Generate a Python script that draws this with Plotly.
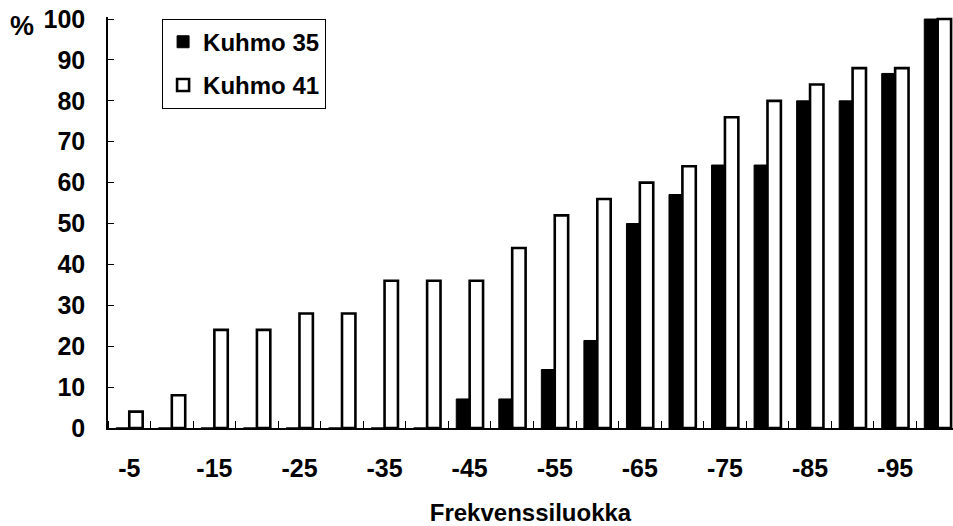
import plotly.graph_objects as go

# Frequency classes (category labels) and cumulative shares (%)
classes = ["-5", "-10", "-15", "-20", "-25", "-30", "-35", "-40", "-45", "-50",
           "-55", "-60", "-65", "-70", "-75", "-80", "-85", "-90", "-95", "-100"]
kuhmo35 = [0, 0, 0, 0, 0, 0, 0, 0, 7.1, 7.1,
           14.3, 21.4, 50, 57.1, 64.3, 64.3, 80, 80, 86.7, 100]
kuhmo41 = [4, 8, 24, 24, 28, 28, 36, 36, 36, 44,
           52, 56, 60, 64, 76, 80, 84, 88, 88, 100]
y_ticks = [0, 10, 20, 30, 40, 50, 60, 70, 80, 90, 100]

idx = list(range(len(classes)))
label_idx = idx[::2]
label_txt = [classes[i] for i in label_idx]

FONT = "Liberation Sans, Arial, sans-serif"

fig = go.Figure()
fig.add_trace(go.Bar(
    x=idx, y=kuhmo35, name="Kuhmo 35", legendgroup="a",
    marker=dict(color="black", line=dict(color="black", width=1)),
))
fig.add_trace(go.Bar(
    x=idx, y=kuhmo41, name="Kuhmo 41", legendgroup="b",
    marker=dict(color="white", line=dict(color="black", width=2.6)),
))

fig.update_layout(
    width=953, height=526,
    margin=dict(l=108, r=0, t=17, b=98),
    paper_bgcolor="white", plot_bgcolor="white",
    barmode="group", bargap=0.37, bargroupgap=0,
    font=dict(family=FONT, size=25, color="black", weight="bold"),
    showlegend=True,
    legend=dict(
        x=0.064, y=0.996, xanchor="left", yanchor="top",
        bordercolor="black", borderwidth=1, bgcolor="white",
        font=dict(family=FONT, size=24, color="black", weight="bold"),
        tracegroupgap=9, itemwidth=30,
    ),
    xaxis=dict(
        range=[-0.5, 19.36],
        tickmode="array", tickvals=label_idx, ticktext=label_txt,
        ticks="", ticklabelstandoff=17,
        showline=True, linecolor="black", linewidth=2,
        showgrid=False, zeroline=False,
        minor=dict(tickmode="linear", tick0=0.5, dtick=1, ticks="inside",
                   ticklen=7, tickwidth=1, tickcolor="black", showgrid=False),
        title=dict(text="Frekvenssiluokka", standoff=26,
                   font=dict(family=FONT, size=24, weight="bold")),
    ),
    yaxis=dict(
        range=[0, 100.5],
        tickmode="array", tickvals=y_ticks,
        ticks="inside", ticklen=6, tickwidth=1, tickcolor="black",
        ticklabelstandoff=16,
        showline=True, linecolor="black", linewidth=1.5,
        showgrid=False, zeroline=False,
    ),
    annotations=[dict(
        text="%", xref="paper", yref="paper",
        x=-0.102, y=0.978, xanchor="center", yanchor="middle",
        showarrow=False, font=dict(family=FONT, size=27, weight="bold"),
    )],
)

fig.write_html("out.html")
